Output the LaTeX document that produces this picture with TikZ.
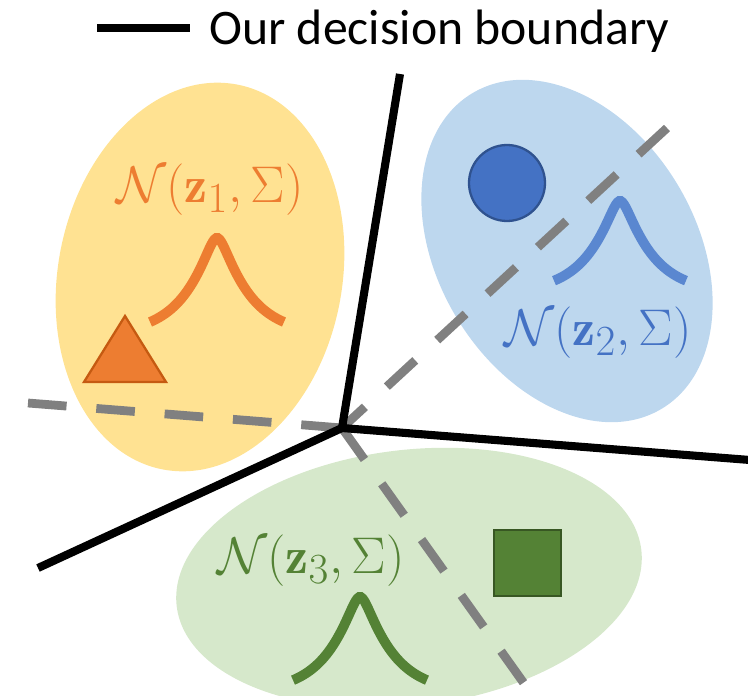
\documentclass[tikz,border=0pt]{standalone}
\usepackage{amsmath,amssymb}
\usepackage{graphicx}
\usepackage{fontspec}
\usepackage{tikz}
\usetikzlibrary{calc,positioning}
\newfontfamily\legendfont{Carlito}
\definecolor{yellowfill}{RGB}{255,226,146}
\definecolor{bluefill}{RGB}{189,215,238}
\definecolor{greenfill}{RGB}{214,232,203}
\definecolor{orangec}{RGB}{237,125,49}
\definecolor{orangedk}{RGB}{197,90,17}
\definecolor{bluec}{RGB}{68,114,196}
\definecolor{bluedk}{RGB}{47,82,143}
\definecolor{bluecurve}{RGB}{90,135,208}
\definecolor{greenc}{RGB}{84,130,53}
\definecolor{greendk}{RGB}{56,87,35}
\definecolor{dashgray}{RGB}{128,128,128}

\begin{document}
\begin{tikzpicture}[x={(0.02cm,0)}, y={(0,-0.02cm)},
     bound/.style={line width=4.6pt,black},
     guess/.style={line width=5pt,dashgray,dash pattern=on 22pt off 17pt},
     bump/.style={line width=5.6pt},
     lbl/.style={font=\fontsize{24.88}{30}\selectfont,inner sep=0pt}]
    \useasboundingbox (0,0) rectangle (748,696);
    \clip (0,0) rectangle (748,696);
    % class regions
    \fill[yellowfill,rotate around={-11:(200,277)}] (200,277) ellipse (142 and 196);
    \fill[bluefill,rotate around={31:(567,251)}] (567,251) ellipse (129 and 184);
    \fill[greenfill,rotate around={7:(409,578)}] (409,578) ellipse (234 and 128);
    % legend
    \coordinate (k1) at (97,28);
    \coordinate (k2) at (190,28);
    \draw[bound] (k1) -- (k2);
    \node[anchor=west,inner sep=0pt,font=\legendfont\fontsize{28.3}{32}\selectfont] (legtxt) at (209,31) {Our decision boundary};
    % boundaries
    \coordinate (ctr) at (342,428);
    \coordinate (dl) at (28,403);
    \coordinate (dur) at (667,128);
    \coordinate (dd) at (533,696);
    \draw[guess] (dl) -- (ctr);
    \draw[guess] (dur) -- (ctr);
    \draw[guess] (ctr) -- (dd);
    \coordinate (bt) at (400,74);
    \coordinate (br) at (750,460);
    \coordinate (bl) at (38,568);
    \draw[bound] (bt) -- (ctr) -- (br);
    \draw[bound] (bl) -- (ctr);
    % class markers
    \filldraw[fill=orangec,draw=orangedk,line width=1.3pt] (84,382) -- (125,316) -- (166,382) -- cycle;
    \filldraw[fill=bluec,draw=bluedk,line width=1.3pt] (507,183) circle (38);
    \filldraw[fill=greenc,draw=greendk,line width=1.3pt] (494,530) rectangle (561,596);
    % gaussians
    \draw[bump,orangec] plot[domain=-1:1,samples=80] ({217+67*\x},{238+97*(1-exp(-(sqrt(\x*\x+0.01)-0.1)/0.45))});
    \draw[bump,bluecurve] plot[domain=-1:1,samples=80] ({620+66*\x},{201+92*(1-exp(-(sqrt(\x*\x+0.01)-0.1)/0.45))});
    \draw[bump,greenc] plot[domain=-1:1,samples=80] ({360+67*\x},{597+96*(1-exp(-(sqrt(\x*\x+0.01)-0.1)/0.45))});
    \node[lbl,text=orangec] (lab1) at (210,190) {\scalebox{1.18}{$\mathcal{N}(\mathbf{z}_1,\Sigma)$}};
    \node[lbl,text=bluec] (lab2) at (598,333) {\scalebox{1.18}{$\mathcal{N}(\mathbf{z}_2,\Sigma)$}};
    \node[lbl,text=greenc] (lab3) at (311,561) {\scalebox{1.18}{$\mathcal{N}(\mathbf{z}_3,\Sigma)$}};
\end{tikzpicture}
\end{document}
